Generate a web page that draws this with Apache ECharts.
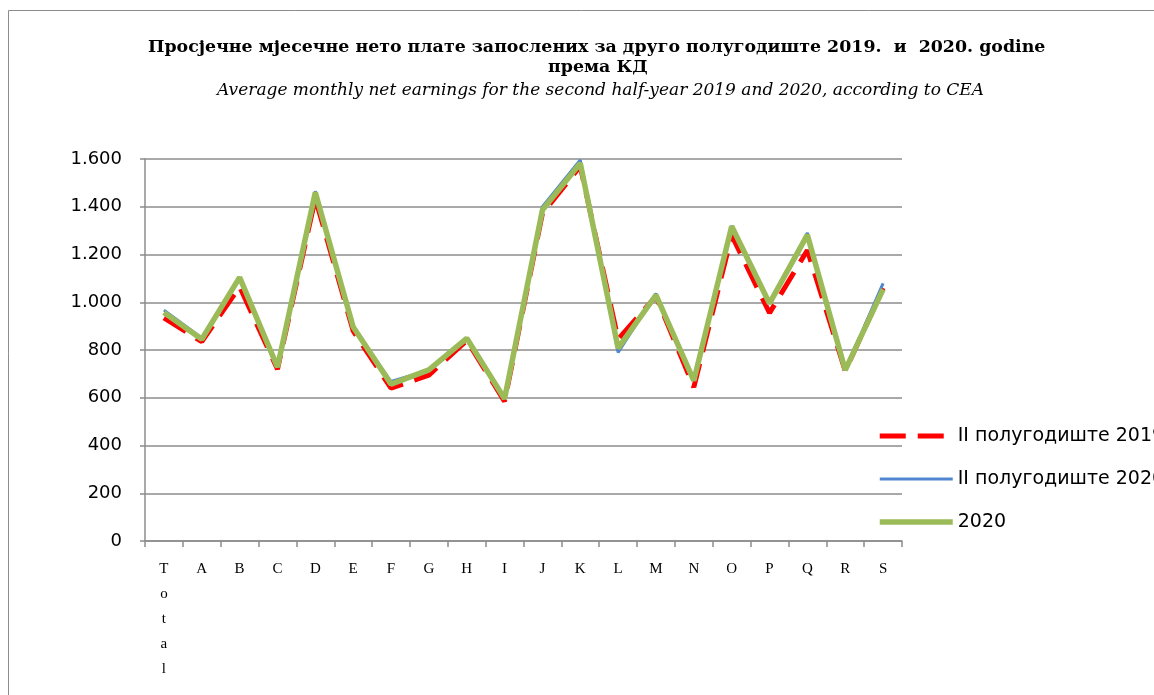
<!DOCTYPE html>
<html lang="sr">
<head>
    <meta charset="UTF-8">
    <title>Просјечне нето плате</title>
    <style>
        html, body { margin: 0; padding: 0; background: #fff; }
        #chart-box { width: 1154px; height: 695px; }
    </style>
</head>
<body>
<div id="chart-box"></div>
<script src="https://cdn.jsdelivr.net/npm/echarts@6/dist/echarts.min.js"></script>
<script>
// категорије по КД
var categories = ['Total', 'A', 'B', 'C', 'D', 'E', 'F', 'G', 'H', 'I', 'J', 'K', 'L', 'M', 'N', 'O', 'P', 'Q', 'R', 'S'];
var seriesNames = ['II полугодиште 2019', 'II полугодиште 2020', '2020'];
var half2019 = [935, 835, 1065, 720, 1435, 880, 640, 695, 840, 585, 1372, 1570, 845, 1025, 644, 1280, 955, 1218, 712, 1060];
var half2020 = [967, 850, 1100, 730, 1465, 895, 668, 715, 848, 595, 1400, 1596, 790, 1036, 672, 1320, 995, 1290, 715, 1079];
var year2020 = [957, 845, 1104, 728, 1460, 896, 657, 717, 849, 596, 1386, 1582, 808, 1030, 672, 1318, 995, 1282, 716, 1054];
var yTicks = [0, 200, 400, 600, 800, 1000, 1200, 1400, 1600];

var serif = '"DejaVu Serif", "Liberation Serif", serif';
var sans = '"DejaVu Sans", "Open Sans", sans-serif';

function fmtThousands(v) {
    return String(v).replace(/\B(?=(\d{3})+(?!\d))/g, '.');
}

var titleBold = { fontFamily: serif, fontWeight: 'bold', fontSize: 17.4, lineHeight: 20, color: '#000' };

var option = {
    animation: false,
    backgroundColor: '#fff',
    graphic: [{
        type: 'rect',
        shape: { x: 8.5, y: 10.5, width: 1160, height: 700 },
        style: { fill: 'none', stroke: '#8c8c8c', lineWidth: 1 },
        silent: true
    }],
    title: [{
        text: 'Просјечне мјесечне нето плате запослених за друго полугодиште 2019.  и  2020. godine',
        left: 148,
        top: 37,
        padding: 0,
        textStyle: titleBold
    }, {
        text: 'према КД',
        left: 548,
        top: 57,
        padding: 0,
        textStyle: titleBold
    }, {
        text: 'Average monthly net earnings for the second half-year 2019 and 2020, according to CEA',
        left: 217,
        top: 81,
        padding: 0,
        textStyle: { fontFamily: serif, fontStyle: 'italic', fontWeight: 'normal', fontSize: 17, lineHeight: 20, color: '#000' }
    }],
    legend: {
        orient: 'vertical',
        left: 872,
        top: 421,
        itemWidth: 73,
        itemHeight: 20,
        itemGap: 23,
        itemStyle: { opacity: 0 },
        lineStyle: { width: 'inherit', type: 'inherit' },
        textStyle: { fontFamily: sans, fontSize: 19, lineHeight: 20, color: '#000' },
        data: seriesNames
    },
    grid: { left: 145, right: 252, top: 159, bottom: 154, containLabel: false },
    xAxis: {
        type: 'category',
        data: categories,
        boundaryGap: true,
        axisLine: { lineStyle: { color: '#8c8c8c', width: 1.5 } },
        axisTick: { show: true, length: 6, lineStyle: { color: '#8c8c8c', width: 1.5 } },
        axisLabel: {
            interval: 0,
            margin: 16,
            fontFamily: '"Liberation Serif", serif',
            fontSize: 15,
            lineHeight: 25,
            color: '#000',
            formatter: function (v) { return v.split('').join('\n'); }
        },
        splitLine: { show: false }
    },
    yAxis: {
        type: 'value',
        min: yTicks[0],
        max: yTicks[yTicks.length - 1],
        interval: 200,
        axisLine: { show: true, lineStyle: { color: '#8c8c8c', width: 1.5 } },
        axisTick: { show: true, length: 5, lineStyle: { color: '#8c8c8c', width: 1.5 } },
        axisLabel: {
            margin: 23,
            fontFamily: sans,
            fontSize: 18,
            color: '#000',
            formatter: fmtThousands
        },
        splitLine: { lineStyle: { color: '#8c8c8c', width: 1.5 } }
    },
    series: [{
        name: seriesNames[0],
        type: 'line',
        data: half2019,
        showSymbol: false,
        itemStyle: { color: '#ff0000' },
        lineStyle: { color: '#ff0000', width: 5, type: [26, 12] },
        z: 2
    }, {
        name: seriesNames[1],
        type: 'line',
        data: half2020,
        showSymbol: false,
        itemStyle: { color: '#4f86cf' },
        lineStyle: { color: '#4f86cf', width: 3 },
        z: 3
    }, {
        name: seriesNames[2],
        type: 'line',
        data: year2020,
        showSymbol: false,
        itemStyle: { color: '#9bbb59' },
        lineStyle: { color: '#9bbb59', width: 5.5 },
        z: 4
    }]
};

var chart = echarts.init(document.getElementById('chart-box'));
chart.setOption(option);
</script>
</body>
</html>
